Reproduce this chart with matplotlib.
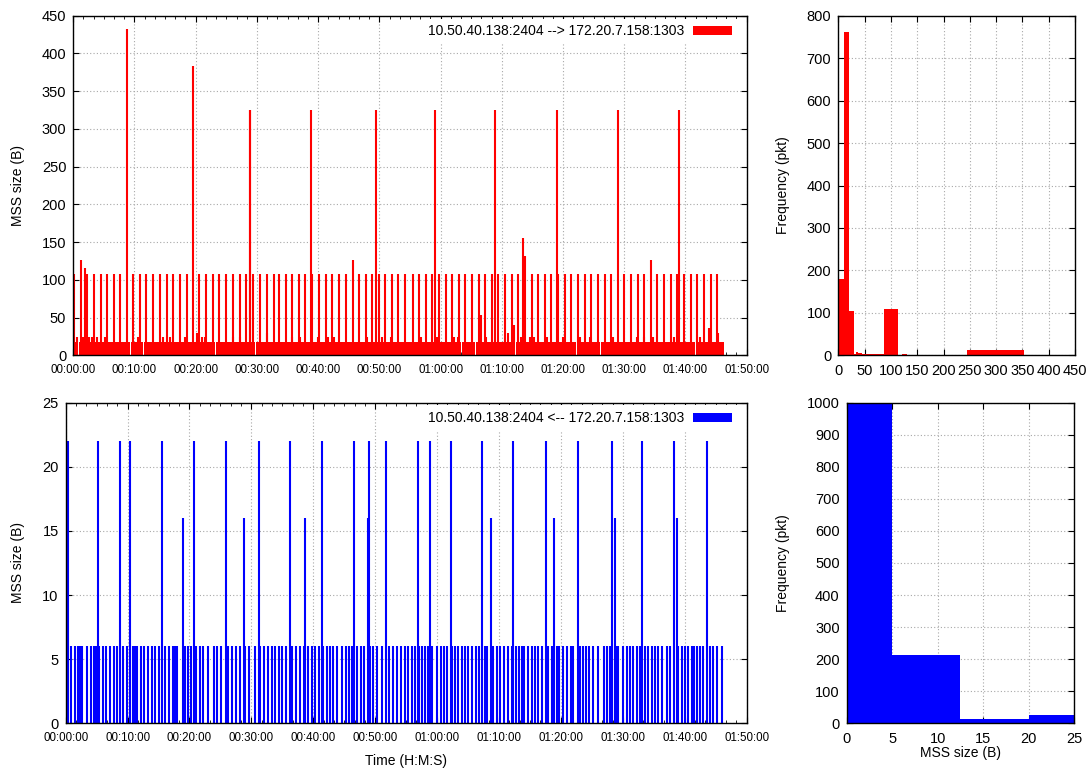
import matplotlib.pyplot as plt
from matplotlib.patches import Patch
from matplotlib.ticker import FuncFormatter, MultipleLocator, AutoMinorLocator

plt.rcParams["font.family"] = ["Liberation Sans", "DejaVu Sans"]

# times are minutes since the start of the capture
up_t = [0.11, 1.26, 1.96, 2.30, 3.33, 4.47, 5.50, 6.59, 7.68, 8.83, 9.81, 10.90,
        11.93, 13.02, 14.16, 15.25, 16.34, 17.43, 18.52, 19.50, 20.59, 21.73,
        22.77, 23.85, 24.89, 26.09, 27.18, 28.26, 28.80, 28.95, 29.41, 30.55,
        31.69, 32.73, 33.65, 34.74, 35.78, 36.87, 37.90, 38.77, 39.05, 40.13,
        41.22, 42.26, 43.35, 44.49, 45.69, 46.72, 47.76, 48.85, 49.45, 49.93,
        50.97, 52.00, 53.09, 54.25, 55.43, 56.47, 57.61, 58.65, 59.08, 59.74,
        60.83, 61.92, 62.95, 64.04, 65.07, 66.22, 66.60, 67.25, 68.34, 68.83,
        69.37, 70.46, 71.61, 72.70, 73.40, 73.72, 74.93, 75.96, 77.00, 78.09,
        78.96, 79.23, 80.32, 81.35, 82.45, 83.53, 84.62, 85.71, 86.80, 87.83,
        88.92, 90.01, 91.10, 92.19, 93.28, 94.37, 95.40, 96.49, 97.58, 98.67,
        98.99, 99.81, 100.85, 101.94, 103.02, 103.80, 104.11, 105.20]
up_h = [108, 126, 116, 108, 108, 108, 108, 108, 108, 432, 108, 108,
        108, 108, 108, 108, 108, 108, 108, 384, 108, 108,
        108, 108, 108, 108, 108, 108, 325, 325, 108, 108,
        108, 108, 108, 108, 108, 108, 108, 325, 108, 108,
        108, 108, 108, 108, 126, 108, 108, 108, 325, 108,
        108, 108, 108, 108, 108, 108, 108, 108, 325, 108,
        108, 108, 108, 108, 108, 108, 53, 108, 108, 325,
        108, 108, 108, 108, 156, 131, 108, 108, 108, 108,
        325, 108, 108, 108, 108, 108, 108, 108, 108, 108,
        325, 108, 108, 108, 108, 126, 108, 108, 108, 108,
        325, 108, 108, 108, 108, 36, 108, 108]

# small packets forming the dense band near the bottom
up_base_edges = [0.0, 0.88, 7.19, 9.37, 11.55, 23.26, 29.79, 45.42, 49.34, 59.95,
                 63.44, 65.73, 67.79, 72.26, 82.22, 85.11, 86.14, 89.19, 93.77,
                 97.36, 101.66, 106.34]
up_base_h = 18
bump_t = [0.55, 1.63, 2.0, 2.5, 3.0, 3.82, 5.12, 10.51, 14.71, 15.80, 18.25, 20.15,
          20.97, 21.51, 26.14, 27.23, 31.59, 35.67, 37.03, 40.03, 41.66, 42.64,
          47.92, 50.37, 51.84, 56.80, 59.35, 62.24, 62.78, 67.41, 70.95, 71.99,
          73.07, 74.60, 75.31, 77.43, 80.04, 82.77, 84.40, 88.21, 92.02, 93.22,
          94.75, 98.18, 102.37, 105.36]
bump_h = [24, 24, 24, 24, 24, 24, 24, 24, 24, 24, 24, 30,
          24, 24, 24, 24, 30, 24, 24, 24, 24, 24,
          24, 24, 24, 24, 24, 24, 24, 24, 30, 40,
          24, 24, 24, 24, 24, 24, 24, 24, 24, 24,
          24, 24, 24, 30]

down_t_6 = [0.05, 0.86, 1.50, 1.93, 2.31, 2.69, 3.39, 4.03, 4.52, 4.89, 5.43, 5.97,
            6.46, 7.16, 7.86, 8.23, 9.20, 9.85, 10.82, 11.19, 11.57, 12.16, 12.65,
            13.24, 13.89, 14.48, 15.02, 16.09, 16.69, 17.39, 17.71, 18.03, 19.32,
            19.81, 20.19, 21.05, 21.69, 22.23, 23.04, 23.95, 24.39, 25.03, 26.27,
            26.81, 27.51, 28.15, 28.96, 29.66, 30.58, 31.38, 32.03, 32.73, 33.32,
            33.81, 34.45, 34.99, 35.53, 36.50, 37.20, 37.85, 38.49, 39.14, 39.73,
            40.27, 40.86, 41.51, 42.15, 42.69, 43.23, 43.88, 44.58, 45.28, 45.81,
            46.24, 47.00, 47.65, 48.18, 49.15, 49.69, 50.34, 51.04, 52.27, 52.92,
            53.46, 54.11, 54.75, 55.34, 55.88, 56.42, 57.12, 57.55, 58.04, 58.57,
            59.17, 60.03, 60.57, 61.11, 61.64, 62.34, 62.88, 63.42, 63.96, 64.55,
            65.04, 65.57, 66.27, 66.81, 67.73, 68.10, 69.07, 69.72, 70.15, 70.85,
            71.39, 72.04, 72.73, 73.27, 73.70, 74.03, 74.73, 75.27, 75.80, 76.34,
            76.88, 77.96, 78.50, 79.30, 79.73, 80.38, 80.92, 81.57, 82.00, 83.07,
            83.61, 84.04, 84.58, 85.12, 86.03, 87.00, 87.49, 87.92, 88.99, 89.26,
            90.07, 90.61, 91.15, 91.69, 92.23, 92.76, 93.57, 94.11, 94.65, 95.19,
            95.73, 96.26, 97.07, 97.61, 98.96, 99.49, 100.03, 100.57, 101.11,
            101.49, 101.92, 102.46, 102.99, 104.07, 104.61, 105.15, 105.96]
down_t_16 = [18.95, 28.75, 38.65, 48.77, 68.64, 78.82, 88.72, 98.79]
down_t_22 = [0.42, 5.16, 8.72, 10.33, 15.50, 20.72, 25.89, 31.17, 36.18, 41.34,
             46.57, 49.04, 51.68, 56.85, 58.79, 62.18, 67.24, 72.30, 77.58, 82.75,
             88.29, 93.03, 98.26, 103.53]

hist_up_edges = [0, 10, 21, 29, 34, 38, 45, 63, 87, 113, 122, 130, 245, 353, 450]
hist_up_counts = [180, 762, 104, 3, 7, 5, 2, 3, 108, 1, 3, 1, 13, 1]
hist_down_edges = [0, 5, 12.5, 20, 25]
hist_down_counts = [995, 213, 12, 26]

label_up = "10.50.40.138:2404 --> 172.20.7.158:1303"
label_down = "10.50.40.138:2404 <-- 172.20.7.158:1303"

RED = "#ff0000"
BLUE = "#0000ff"


def hms(x, pos):
    s = int(round(x * 60))
    return "%02d:%02d:%02d" % (s // 3600, (s % 3600) // 60, s % 60)


def style_axes(ax, xstep, ystep, xsize, time_axis=False):
    ax.set_axisbelow(True)
    ax.grid(True, color="#a8a8a8", linestyle=(0, (1, 2)), linewidth=0.8)
    ax.xaxis.set_major_locator(MultipleLocator(xstep))
    ax.yaxis.set_major_locator(MultipleLocator(ystep))
    ax.tick_params(which="both", direction="in", top=True, right=True)
    ax.tick_params(which="major", length=4, width=0.8)
    ax.tick_params(axis="y", labelsize=10.5, pad=5)
    ax.tick_params(axis="x", labelsize=xsize, pad=6)
    if time_axis:
        ax.xaxis.set_major_formatter(FuncFormatter(hms))
        ax.xaxis.set_minor_locator(AutoMinorLocator(6))
        ax.tick_params(which="minor", length=2, width=0.6)
    for sp in ax.spines.values():
        sp.set_linewidth(1.0)


def add_legend(ax, color, text):
    handle = Patch(facecolor=color, edgecolor="none")
    leg = ax.legend([handle], [text], loc="upper right", bbox_to_anchor=(0.99, 1.0),
                    markerfirst=False, frameon=True, fancybox=False, framealpha=1,
                    handlelength=2.8, handleheight=0.6, handletextpad=0.6,
                    borderpad=0.4, borderaxespad=0.2, fontsize=10)
    leg.get_frame().set_edgecolor("none")


fig = plt.figure(figsize=(10.87, 7.71), dpi=100)
ax1 = fig.add_axes([0.0674, 0.5392, 0.6195, 0.4404])
ax2 = fig.add_axes([0.7712, 0.5392, 0.2178, 0.4404])
ax3 = fig.add_axes([0.0604, 0.0619, 0.6265, 0.4158])
ax4 = fig.add_axes([0.7789, 0.0619, 0.2094, 0.4158])

# upstream time series
lefts = up_base_edges[:-1]
widths = [b - a - 0.12 for a, b in zip(up_base_edges[:-1], up_base_edges[1:])]
ax1.bar(lefts, [up_base_h] * len(lefts), width=widths, align="edge",
        color=RED, linewidth=0)
ax1.vlines(bump_t, 0, bump_h, color=RED, linewidth=1.5)
ax1.vlines(up_t, 0, up_h, color=RED, linewidth=1.5)
ax1.set_xlim(0, 110)
ax1.set_ylim(0, 450)
style_axes(ax1, 10, 50, 8.3, time_axis=True)
ax1.set_ylabel("MSS size (B)", fontsize=10)
ax1.yaxis.set_label_coords(-0.072, 0.5)
add_legend(ax1, RED, label_up)

# upstream histogram
ax2.bar(hist_up_edges[:-1], hist_up_counts,
        width=[b - a for a, b in zip(hist_up_edges[:-1], hist_up_edges[1:])],
        align="edge", color=RED, linewidth=0)
ax2.set_xlim(0, 450)
ax2.set_ylim(0, 800)
style_axes(ax2, 50, 100, 10.5)
ax2.set_ylabel("Frequency (pkt)", fontsize=10)
ax2.yaxis.set_label_coords(-0.203, 0.5)

# downstream time series
ax3.vlines(down_t_6, 0, 6, color=BLUE, linewidth=1.5)
ax3.vlines(down_t_16, 0, 16, color=BLUE, linewidth=1.5)
ax3.vlines(down_t_22, 0, 22, color=BLUE, linewidth=1.5)
ax3.set_xlim(0, 110)
ax3.set_ylim(0, 25)
style_axes(ax3, 10, 5, 8.3, time_axis=True)
ax3.set_ylabel("MSS size (B)", fontsize=10)
ax3.yaxis.set_label_coords(-0.059, 0.5)
ax3.set_xlabel("Time (H:M:S)", fontsize=10)
ax3.xaxis.set_label_coords(0.5, -0.095)
add_legend(ax3, BLUE, label_down)

# downstream histogram
ax4.bar(hist_down_edges[:-1], hist_down_counts,
        width=[b - a for a, b in zip(hist_down_edges[:-1], hist_down_edges[1:])],
        align="edge", color=BLUE, linewidth=0)
ax4.set_xlim(0, 25)
ax4.set_ylim(0, 1000)
style_axes(ax4, 5, 100, 10.5)
ax4.set_ylabel("Frequency (pkt)", fontsize=10)
ax4.yaxis.set_label_coords(-0.248, 0.5)
ax4.set_xlabel("MSS size (B)", fontsize=10)
ax4.xaxis.set_label_coords(0.5, -0.07)

fig.savefig("out.png", dpi=100)
